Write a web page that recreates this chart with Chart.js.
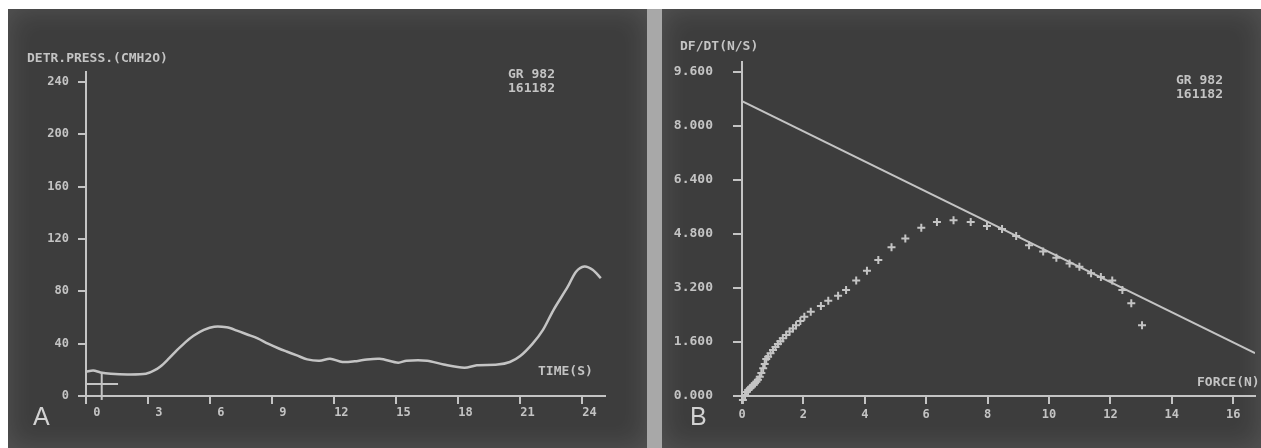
<!DOCTYPE html>
<html>
<head>
<meta charset="utf-8">
<script src="https://cdn.jsdelivr.net/npm/chart.js@4.4.1/dist/chart.umd.min.js"></script>
<style>
  html, body { margin: 0; padding: 0; background: #fff; }
  body { width: 1261px; height: 448px; position: relative; overflow: hidden; }
  .panel {
    position: absolute;
    top: 9px;
    height: 439px;
    background: #3d3d3d;
    overflow: hidden;
    box-shadow: inset 0 0 28px rgba(255, 255, 255, 0.13);
  }
  #panelA { left: 8px; width: 639px; }
  #panelB { left: 662px; width: 599px; }
  #divider { position: absolute; left: 647px; top: 9px; width: 15px; height: 439px; background: #a8a8a8; }
  .panel canvas { position: absolute; left: 0; top: 0; }
  .note {
    position: absolute;
    color: #c4c4c4;
    font: bold 13px "DejaVu Sans Mono", monospace;
    line-height: 14px;
    white-space: pre;
  }
  .letter {
    position: absolute;
    color: #d2d2d2;
    font: 25px "Liberation Sans", Arial, sans-serif;
    line-height: 25px;
  }
</style>
</head>
<body>
<div id="panelA" class="panel">
  <canvas id="pressureChart" width="639" height="439"></canvas>
  <div class="note" style="left:19px; top:42px;">DETR.PRESS.(CMH2O)</div>
  <div class="note" style="left:500px; top:58px;">GR 982
161182</div>
  <div class="note" style="left:530px; top:355px;">TIME(S)</div>
  <div class="letter" style="left:25px; top:395px;">A</div>
</div>
<div id="divider"></div>
<div id="panelB" class="panel">
  <canvas id="forceChart" width="599" height="439"></canvas>
  <div class="note" style="left:18px; top:30px;">DF/DT(N/S)</div>
  <div class="note" style="left:514px; top:64px;">GR 982
161182</div>
  <div class="note" style="left:535px; top:366px;">FORCE(N)</div>
  <div class="letter" style="left:28px; top:395px;">B</div>
</div>

<script>
// panel A: detrusor pressure over time
const timeSeconds = [
  0, 0.35, 0.7, 1.2, 2.0, 2.9, 3.3, 3.6, 4.0, 4.4, 4.8, 5.2, 5.7, 6.2, 6.8, 7.3,
  7.8, 8.3, 8.8, 9.3, 9.7, 10.2, 10.7, 11.3, 11.8, 12.4, 13.0, 13.4, 14.2, 15.1,
  15.5, 16.5, 17.3, 18.3, 18.9, 19.9, 20.5, 21.0, 21.6, 22.1, 22.6, 23.3, 23.7,
  24.1, 24.5, 24.9,
];
const pressureCmH2O = [
  18.5, 19.5, 18, 17, 16.5, 17, 19.5, 22.5, 28.5, 35, 41, 46, 50.5, 53, 52.5, 50,
  47, 44, 40, 36.5, 34, 31, 28, 27, 28.5, 26, 26.5, 27.5, 28.5, 25.5,
  27, 27, 24, 21.5, 23.5, 24, 26, 30.5, 40, 50.5, 65.5, 83.5, 95,
  99, 96.5, 90,
];
// small cursor marks near the origin
const cursorH = [[0, 9.2], [1.55, 9.2]];
const cursorV = [[0.76, -3], [0.76, 18]];
const pressureTicks = [0, 40, 80, 120, 160, 200, 240];
const timeTicks = [0, 3, 6, 9, 12, 15, 18, 21, 24];

// panel B: dF/dt against force
const forceN = [
  0.03, 0.1, 0.15, 0.2, 0.26, 0.32, 0.38, 0.42, 0.47, 0.52, 0.58, 0.63, 0.69,
  0.74, 0.79, 0.85, 0.93, 1.01, 1.09, 1.17, 1.25, 1.33, 1.44, 1.55, 1.66, 1.76,
  1.9, 2.03, 2.24, 2.57, 2.81, 3.13, 3.39, 3.72, 4.07, 4.44, 4.87, 5.32, 5.84,
  6.35, 6.89, 7.45, 7.98, 8.47, 8.93, 9.35, 9.81, 10.24, 10.67, 10.99, 11.37,
  11.69, 12.06, 12.39, 12.68, 13.03,
];
const dfdtNs = [
  -0.12, 0.03, 0.12, 0.18, 0.23, 0.28, 0.33, 0.38, 0.42, 0.48, 0.57, 0.68, 0.82,
  0.95, 1.1, 1.16, 1.27, 1.36, 1.45, 1.54, 1.62, 1.71, 1.81, 1.91, 2.0, 2.1,
  2.22, 2.35, 2.5, 2.67, 2.82, 2.97, 3.14, 3.42, 3.71, 4.03, 4.41, 4.67, 4.99,
  5.16, 5.21, 5.16, 5.04, 4.95, 4.74, 4.47, 4.28, 4.1, 3.93, 3.83, 3.64,
  3.53, 3.42, 3.14, 2.75, 2.1,
];
const fitLine = [[0, 8.74], [16.71, 1.27]];
const dfdtTicks = [0, 1.6, 3.2, 4.8, 6.4, 8.0, 9.6];
const forceTicks = [0, 2, 4, 6, 8, 10, 12, 14, 16];

const ink = "#c4c4c4";
const monoFont = { family: "'DejaVu Sans Mono', monospace", size: 12, weight: "bold" };

function toPoints(xs, ys) {
  return xs.map((x, index) => ({ x, y: ys[index] }));
}

function pairPoints(pairs) {
  return pairs.map(([x, y]) => ({ x, y }));
}

function axisBase(ticks, tickLength) {
  return {
    type: "linear",
    afterBuildTicks: (scale) => {
      scale.ticks = ticks.map((value) => ({ value }));
    },
    border: { display: true, color: ink, width: 2 },
    grid: { drawOnChartArea: false, drawTicks: true, tickLength, color: ink, lineWidth: 2 },
  };
}

function renderPressureChart() {
  const canvas = document.querySelector("#pressureChart");
  const lineStyle = { borderColor: ink, borderWidth: 2, pointRadius: 0, showLine: true, fill: false, clip: false };

  new Chart(canvas, {
    type: "scatter",
    data: {
      datasets: [
        { ...lineStyle, data: toPoints(timeSeconds, pressureCmH2O), borderWidth: 2.5, tension: 0.3 },
        { ...lineStyle, data: pairPoints(cursorH) },
        { ...lineStyle, data: pairPoints(cursorV) },
      ],
    },
    options: {
      responsive: false,
      animation: false,
      layout: { padding: { left: 0, right: 42, top: 63, bottom: 0 } },
      scales: {
        x: {
          ...axisBase(timeTicks, 8),
          min: 0,
          max: 25.1,
          afterFit: (scale) => { scale.height = 52; },
          ticks: {
            color: ink,
            font: monoFont,
            align: "start",
            padding: 2,
            maxRotation: 0,
            callback: (value) => String(value).padStart(2, " "),
          },
        },
        y: {
          ...axisBase(pressureTicks, 8),
          min: 0,
          max: 247.6,
          afterFit: (scale) => { scale.width = 78; },
          ticks: { color: ink, font: monoFont, padding: 9 },
        },
      },
      plugins: {
        legend: { display: false },
        tooltip: { enabled: false },
      },
    },
  });
}

function renderForceChart() {
  const canvas = document.querySelector("#forceChart");

  new Chart(canvas, {
    type: "scatter",
    data: {
      datasets: [
        {
          data: toPoints(forceN, dfdtNs),
          pointStyle: "cross",
          pointRadius: 4,
          borderWidth: 2,
          borderColor: ink,
          clip: false,
        },
        {
          data: pairPoints(fitLine),
          showLine: true,
          pointRadius: 0,
          borderColor: ink,
          borderWidth: 2,
        },
      ],
    },
    options: {
      responsive: false,
      animation: false,
      layout: { padding: { left: 0, right: 0, top: 53, bottom: 0 } },
      scales: {
        x: {
          ...axisBase(forceTicks, 8),
          min: 0,
          max: 16.71,
          afterFit: (scale) => { scale.height = 52; },
          ticks: { color: ink, font: monoFont, padding: 4, maxRotation: 0 },
        },
        y: {
          ...axisBase(dfdtTicks, 9),
          min: 0,
          max: 9.9,
          afterFit: (scale) => { scale.width = 80; },
          ticks: {
            color: ink,
            font: { ...monoFont, size: 13 },
            padding: 20,
            callback: (value) => value.toFixed(3),
          },
        },
      },
      plugins: {
        legend: { display: false },
        tooltip: { enabled: false },
      },
    },
  });
}

renderPressureChart();
renderForceChart();
</script>
</body>
</html>
